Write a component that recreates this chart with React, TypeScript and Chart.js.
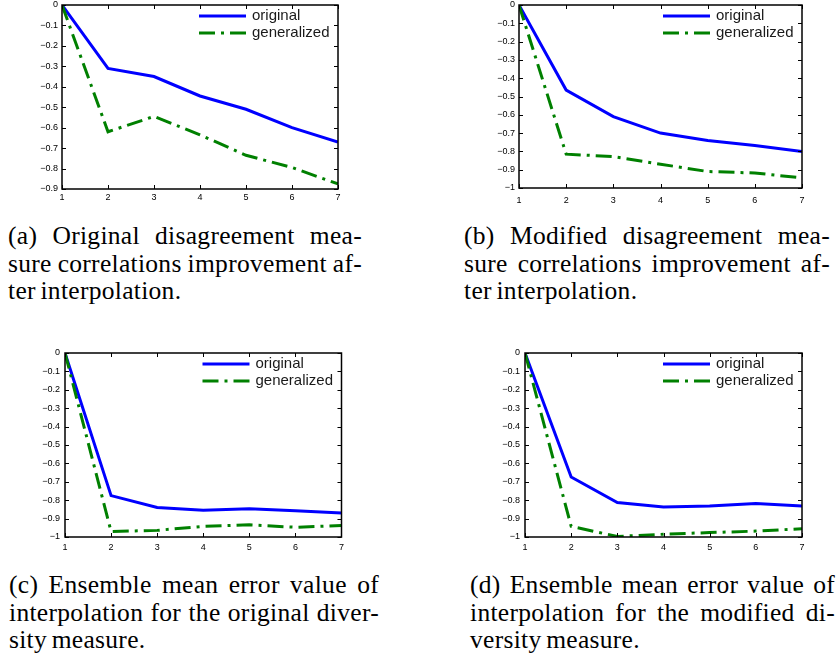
import React, { useEffect, useRef } from "react";
import { Chart, registerables } from "chart.js";

Chart.register(...registerables);

// ---------- data ----------
const xValues = [1, 2, 3, 4, 5, 6, 7];
const seriesNames = ["original", "generalized"];

const aOriginal = [0, -0.31, -0.35, -0.445, -0.51, -0.6, -0.67];
const aGeneralized = [0, -0.62, -0.545, -0.635, -0.735, -0.795, -0.875];

const bOriginal = [0, -0.465, -0.61, -0.7, -0.74, -0.768, -0.8];
const bGeneralized = [0, -0.815, -0.828, -0.87, -0.91, -0.918, -0.945];

const cOriginal = [0, -0.775, -0.84, -0.855, -0.846, -0.857, -0.87];
const cGeneralized = [0, -0.97, -0.964, -0.942, -0.934, -0.947, -0.938];

const dOriginal = [0, -0.674, -0.813, -0.837, -0.832, -0.818, -0.832];
const dGeneralized = [0, -0.942, -0.997, -0.985, -0.976, -0.968, -0.955];

const yMinA = -0.9;
const yMinOther = -1;
const yMax = 0;
const yStep = 0.1;

const captionA = ["(a) Original disagreement mea-", "sure correlations improvement af-", "ter interpolation."];
const captionB = ["(b) Modified disagreement mea-", "sure correlations improvement af-", "ter interpolation."];
const captionC = ["(c) Ensemble mean error value of", "interpolation for the original diver-", "sity measure."];
const captionD = ["(d) Ensemble mean error value of", "interpolation for the modified di-", "versity measure."];

// ---------- styles ----------
const BLUE = "#0000ff";
const GREEN = "#008000";
const DASHDOT = [16, 6, 3, 6];
const X_TICK_FONT = { family: '"Liberation Sans", Arial, sans-serif', size: 9, lineHeight: 1 };
const Y_TICK_FONT = { family: '"Liberation Sans", Arial, sans-serif', size: 9, lineHeight: 0.2 };
const LEGEND_FONT = '15px "Liberation Sans", Arial, sans-serif';

type Panel = {
  left: number; top: number; width: number; height: number;
  yW: number; padTop: number; padRight: number; xH: number; xPad: number; yPad: number;
  original: number[]; generalized: number[]; yMin: number;
};

const panels: Panel[] = [
  { left: 0, top: 0, width: 345, height: 212, yW: 62, padTop: 5, padRight: 7, xH: 23, xPad: 4, yPad: 4, original: aOriginal, generalized: aGeneralized, yMin: yMinA },
  { left: 460, top: 0, width: 378, height: 212, yW: 59, padTop: 5, padRight: 36, xH: 24, xPad: 8, yPad: 4, original: bOriginal, generalized: bGeneralized, yMin: yMinOther },
  { left: 0, top: 340, width: 350, height: 215, yW: 65, padTop: 13, padRight: 6, xH: 18, xPad: 6, yPad: 5, original: cOriginal, generalized: cGeneralized, yMin: yMinOther },
  { left: 460, top: 340, width: 378, height: 215, yW: 65, padTop: 13, padRight: 36, xH: 18, xPad: 6, yPad: 5, original: dOriginal, generalized: dGeneralized, yMin: yMinOther },
];

const captions = [
  { lines: captionA, left: 8, top: 222, width: 354 },
  { lines: captionB, left: 464, top: 222, width: 366 },
  { lines: captionC, left: 9, top: 571, width: 370 },
  { lines: captionD, left: 470, top: 571, width: 365 },
];

// frame + inward ticks (MATLAB style)
const framePlugin = {
  id: "frameTicks",
  afterDraw(chart: any) {
    const { ctx, chartArea: a, scales } = chart;
    const L = 4;
    ctx.save();
    ctx.strokeStyle = "#000";
    ctx.lineWidth = 1;
    ctx.beginPath();
    scales.x.ticks.forEach((_t: any, i: number) => {
      const px = Math.round(scales.x.getPixelForTick(i)) + 0.5;
      ctx.moveTo(px, a.bottom); ctx.lineTo(px, a.bottom - L);
      ctx.moveTo(px, a.top); ctx.lineTo(px, a.top + L);
    });
    scales.y.ticks.forEach((_t: any, i: number) => {
      const py = Math.round(scales.y.getPixelForTick(i)) + 0.5;
      ctx.moveTo(a.left, py); ctx.lineTo(a.left + L, py);
      ctx.moveTo(a.right, py); ctx.lineTo(a.right - L, py);
    });
    ctx.stroke();
    ctx.lineWidth = 1.5;
    ctx.strokeRect(a.left, a.top, a.right - a.left, a.bottom - a.top);
    ctx.restore();
  },
};

// legend inside the plot, top-right, no box
const legendPlugin = {
  id: "insideLegend",
  afterDraw(chart: any) {
    const { ctx, chartArea: a } = chart;
    const x0 = a.right - 139;
    const x1 = a.right - 92;
    ctx.save();
    chart.data.datasets.forEach((ds: any, i: number) => {
      const y = a.top + 11 + i * 17;
      ctx.beginPath();
      ctx.strokeStyle = ds.borderColor;
      ctx.lineWidth = ds.borderWidth;
      ctx.lineCap = "butt";
      ctx.setLineDash(ds.borderDash || []);
      ctx.moveTo(x0, y);
      ctx.lineTo(x1, y);
      ctx.stroke();
      ctx.setLineDash([]);
      ctx.fillStyle = "#1a1a1a";
      ctx.font = LEGEND_FONT;
      ctx.textBaseline = "middle";
      ctx.textAlign = "left";
      ctx.fillText(ds.label, x1 + 6, y);
    });
    ctx.restore();
  },
};

function fmtY(v: any) {
  const n = Number(v);
  if (Math.abs(n) < 1e-9) return "0";
  return (n < 0 ? "\u2212" : "") + parseFloat(Math.abs(n).toFixed(1)).toString();
}

function PanelChart({ p }: { p: Panel }) {
  const ref = useRef<HTMLCanvasElement | null>(null);
  useEffect(() => {
    if (!ref.current) return;
    const chart = new Chart(ref.current, {
      type: "line",
      data: {
        datasets: [
          {
            label: seriesNames[0],
            data: xValues.map((x, i) => ({ x, y: p.original[i] })),
            borderColor: BLUE,
            backgroundColor: BLUE,
            borderWidth: 3,
            pointRadius: 0,
            tension: 0,
            borderCapStyle: "butt",
            borderJoinStyle: "miter",
            order: 1,
          },
          {
            label: seriesNames[1],
            data: xValues.map((x, i) => ({ x, y: p.generalized[i] })),
            borderColor: GREEN,
            backgroundColor: GREEN,
            borderWidth: 3,
            borderDash: DASHDOT,
            pointRadius: 0,
            tension: 0,
            borderCapStyle: "butt",
            borderJoinStyle: "miter",
            order: 0,
          },
        ],
      },
      options: {
        responsive: false,
        animation: false,
        events: [],
        layout: { padding: { top: p.padTop, right: p.padRight, left: 0, bottom: 0 } },
        plugins: { legend: { display: false }, tooltip: { enabled: false } },
        scales: {
          x: {
            type: "linear",
            min: 1,
            max: 7,
            grid: { display: false, drawTicks: false },
            border: { display: false },
            ticks: { stepSize: 1, color: "#000", font: X_TICK_FONT, padding: p.xPad, maxRotation: 0 },
            afterFit: (s: any) => { s.height = p.xH; },
          },
          y: {
            type: "linear",
            min: p.yMin,
            max: yMax,
            grid: { display: false, drawTicks: false },
            border: { display: false },
            ticks: { stepSize: yStep, color: "#000", font: Y_TICK_FONT, padding: p.yPad, callback: fmtY },
            afterFit: (s: any) => { s.width = p.yW; },
          },
        },
      } as any,
      plugins: [framePlugin, legendPlugin],
    });
    return () => chart.destroy();
  }, [p]);
  return (
    <canvas
      ref={ref}
      width={p.width}
      height={p.height}
      style={{ position: "absolute", left: p.left, top: p.top, width: p.width, height: p.height }}
    />
  );
}

const LH = 27.6;

function Caption({ lines, left, top, width }: { lines: string[]; left: number; top: number; width: number }) {
  return (
    <>
      {lines.map((ln, i) => {
        const last = i === lines.length - 1;
        return (
          <div
            key={i}
            style={{
              position: "absolute",
              left,
              top: top + i * LH,
              width,
              height: LH,
              lineHeight: LH + "px",
              fontFamily: '"Liberation Serif", "Times New Roman", serif',
              fontSize: 25.5,
              letterSpacing: "0.3px",
              wordSpacing: "-2px",
              color: "#000",
              textAlign: last ? "left" : "justify",
              textAlignLast: last ? "left" : "justify",
            } as any}
          >
            {ln}
          </div>
        );
      })}
    </>
  );
}

export default function App() {
  return (
    <div style={{ position: "absolute", left: 0, top: 0, width: 838, height: 662, background: "#fff", overflow: "hidden" }}>
      {panels.map((p, i) => (
        <PanelChart key={i} p={p} />
      ))}
      {captions.map((c, i) => (
        <Caption key={i} lines={c.lines} left={c.left} top={c.top} width={c.width} />
      ))}
    </div>
  );
}
